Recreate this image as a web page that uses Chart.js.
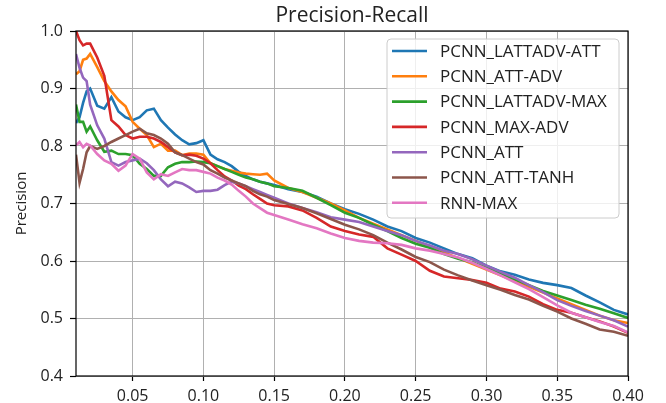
<!DOCTYPE html>
<html>
<head>
<meta charset="utf-8">
<script src="https://cdn.jsdelivr.net/npm/chart.js@4.4.1/dist/chart.umd.min.js"></script>
<style>
  html, body { margin: 0; padding: 0; background: #fff; }
  canvas { display: block; }
</style>
</head>
<body>
<canvas id="grafico" width="666" height="403"></canvas>
<script>
// Recall points (x) shared by every curve
const recall = [0.01, 0.0125, 0.015, 0.0175, 0.02, 0.025, 0.03, 0.035, 0.04, 0.045, 0.05,
  0.055, 0.06, 0.065, 0.07, 0.075, 0.08, 0.085, 0.09, 0.095, 0.10,
  0.105, 0.11, 0.115, 0.12, 0.125, 0.13, 0.135, 0.14, 0.145, 0.15,
  0.16, 0.17, 0.18, 0.19, 0.20, 0.21, 0.22, 0.23, 0.24, 0.25,
  0.26, 0.27, 0.28, 0.29, 0.30, 0.31, 0.32, 0.33, 0.34, 0.35,
  0.36, 0.37, 0.38, 0.39, 0.40];

// Precision values, one array per model
const lattAdvAtt = [0.84, 0.85, 0.875, 0.895, 0.90, 0.87, 0.865, 0.885, 0.86, 0.85, 0.845,
  0.85, 0.862, 0.865, 0.845, 0.832, 0.82, 0.81, 0.803, 0.805, 0.81,
  0.785, 0.777, 0.772, 0.765, 0.755, 0.748, 0.742, 0.738, 0.735, 0.732,
  0.725, 0.72, 0.712, 0.70, 0.69, 0.682, 0.672, 0.66, 0.652, 0.64,
  0.632, 0.622, 0.612, 0.605, 0.592, 0.582, 0.576, 0.568, 0.562, 0.558,
  0.553, 0.54, 0.528, 0.515, 0.507];
const attAdv = [0.925, 0.93, 0.95, 0.952, 0.96, 0.937, 0.913, 0.895, 0.88, 0.869, 0.842,
  0.83, 0.819, 0.798, 0.804, 0.792, 0.792, 0.784, 0.787, 0.787, 0.785,
  0.77, 0.765, 0.76, 0.757, 0.754, 0.752, 0.751, 0.75, 0.752, 0.74,
  0.727, 0.72, 0.71, 0.70, 0.688, 0.675, 0.665, 0.655, 0.645, 0.635,
  0.625, 0.615, 0.605, 0.595, 0.585, 0.575, 0.565, 0.555, 0.545, 0.535,
  0.525, 0.515, 0.505, 0.497, 0.492];
const lattAdvMax = [0.872, 0.842, 0.842, 0.825, 0.834, 0.81, 0.79, 0.792, 0.786, 0.786, 0.784,
  0.769, 0.76, 0.748, 0.748, 0.763, 0.769, 0.772, 0.772, 0.773, 0.772,
  0.77, 0.765, 0.76, 0.755, 0.75, 0.745, 0.742, 0.738, 0.735, 0.73,
  0.727, 0.722, 0.71, 0.697, 0.684, 0.675, 0.663, 0.652, 0.64, 0.63,
  0.623, 0.612, 0.604, 0.598, 0.588, 0.578, 0.568, 0.558, 0.548, 0.54,
  0.532, 0.524, 0.517, 0.509, 0.501];
const maxAdv = [1.0, 0.984, 0.975, 0.978, 0.978, 0.954, 0.922, 0.845, 0.834, 0.819, 0.813,
  0.816, 0.816, 0.813, 0.807, 0.798, 0.789, 0.784, 0.785, 0.783, 0.778,
  0.77, 0.758, 0.747, 0.74, 0.731, 0.725, 0.716, 0.708, 0.70, 0.697,
  0.695, 0.688, 0.675, 0.66, 0.652, 0.646, 0.642, 0.622, 0.611, 0.60,
  0.583, 0.573, 0.57, 0.567, 0.562, 0.552, 0.547, 0.538, 0.525, 0.515,
  0.51, 0.502, 0.495, 0.486, 0.475];
const pcnnAtt = [0.96, 0.936, 0.919, 0.913, 0.872, 0.836, 0.813, 0.772, 0.766, 0.772, 0.775,
  0.778, 0.77, 0.758, 0.742, 0.73, 0.738, 0.735, 0.728, 0.72, 0.722,
  0.722, 0.724, 0.732, 0.738, 0.735, 0.73, 0.725, 0.72, 0.715, 0.71,
  0.70, 0.692, 0.685, 0.676, 0.672, 0.668, 0.66, 0.652, 0.645, 0.635,
  0.627, 0.618, 0.612, 0.603, 0.592, 0.581, 0.571, 0.558, 0.546, 0.532,
  0.522, 0.513, 0.505, 0.497, 0.486];
const attTanh = [0.785, 0.736, 0.76, 0.789, 0.80, 0.795, 0.80, 0.807, 0.813, 0.819, 0.825,
  0.83, 0.822, 0.819, 0.813, 0.804, 0.789, 0.784, 0.778, 0.772, 0.768,
  0.758, 0.752, 0.745, 0.74, 0.735, 0.73, 0.722, 0.716, 0.712, 0.706,
  0.699, 0.692, 0.683, 0.673, 0.663, 0.655, 0.645, 0.632, 0.62, 0.607,
  0.598, 0.585, 0.575, 0.566, 0.558, 0.55, 0.541, 0.533, 0.522, 0.512,
  0.50, 0.491, 0.481, 0.477, 0.47];
const rnnMax = [0.801, 0.807, 0.798, 0.804, 0.801, 0.786, 0.775, 0.769, 0.757, 0.766, 0.786,
  0.778, 0.754, 0.742, 0.751, 0.748, 0.754, 0.76, 0.758, 0.758, 0.755,
  0.752, 0.745, 0.74, 0.733, 0.722, 0.712, 0.70, 0.692, 0.684, 0.68,
  0.672, 0.664, 0.657, 0.648, 0.64, 0.635, 0.632, 0.631, 0.628, 0.622,
  0.618, 0.612, 0.606, 0.597, 0.586, 0.575, 0.563, 0.551, 0.537, 0.523,
  0.51, 0.502, 0.494, 0.487, 0.476];

const nomes = ["PCNN_LATTADV-ATT", "PCNN_ATT-ADV", "PCNN_LATTADV-MAX", "PCNN_MAX-ADV",
  "PCNN_ATT", "PCNN_ATT-TANH", "RNN-MAX"];
const series = [lattAdvAtt, attAdv, lattAdvMax, maxAdv, pcnnAtt, attTanh, rnnMax];
const cores = ["#1f77b4", "#ff7f0e", "#2ca02c", "#d62728", "#9467bd", "#8c564b", "#e377c2"];

// Ticks
const xTicks = [0.05, 0.10, 0.15, 0.20, 0.25, 0.30, 0.35, 0.40];
const xTickLabels = ["0.05", "0.10", "0.15", "0.20", "0.25", "0.30", "0.35", "0.40"];
const yTicks = [0.4, 0.5, 0.6, 0.7, 0.8, 0.9, 1.0];
const yTickLabels = ["0.4", "0.5", "0.6", "0.7", "0.8", "0.9", "1.0"];

const titulo = "Precision-Recall";
const yTitulo = "Precision";

const FONTE = '"Open Sans", "DejaVu Sans", sans-serif';
const LARGURA_LINHA = 2.6;

// Frame, title, y label and legend drawn by hand (matplotlib look)
const extras = {
  id: "extras",
  afterDatasetsDraw(chart) {
    const { ctx, chartArea: a } = chart;
    ctx.save();
    // frame
    ctx.strokeStyle = "#000";
    ctx.lineWidth = 1.2;
    ctx.strokeRect(a.left, a.top, a.right - a.left, a.bottom - a.top);

    // title
    ctx.fillStyle = "#222";
    ctx.font = "21px " + FONTE;
    ctx.textAlign = "center";
    ctx.textBaseline = "alphabetic";
    ctx.fillText(titulo, (a.left + a.right) / 2, 22);

    // y label
    ctx.save();
    ctx.translate(26, (a.top + a.bottom) / 2);
    ctx.rotate(-Math.PI / 2);
    ctx.font = "15px " + FONTE;
    ctx.fillText(yTitulo, 0, 0);
    ctx.restore();

    // legend
    const bx = 387, by = 39, bw = 232, bh = 179;
    ctx.beginPath();
    ctx.roundRect(bx, by, bw, bh, 4);
    ctx.fillStyle = "rgba(255,255,255,0.8)";
    ctx.fill();
    ctx.strokeStyle = "#cccccc";
    ctx.lineWidth = 1;
    ctx.stroke();

    ctx.font = "17px " + FONTE;
    ctx.textAlign = "left";
    ctx.textBaseline = "middle";
    nomes.forEach((nome, i) => {
      const y = 51 + i * 25.3;
      ctx.strokeStyle = cores[i];
      ctx.lineWidth = LARGURA_LINHA;
      ctx.beginPath();
      ctx.moveTo(392, y);
      ctx.lineTo(427, y);
      ctx.stroke();
      ctx.fillStyle = "#222";
      ctx.fillText(nome, 440, y + 1);
    });
    ctx.restore();
  }
};

const datasets = series.map((vals, i) => ({
  label: nomes[i],
  data: recall.map((r, j) => ({ x: r, y: vals[j] })),
  borderColor: cores[i],
  backgroundColor: cores[i],
  borderWidth: LARGURA_LINHA,
  pointRadius: 0,
  tension: 0,
  clip: 0,
  order: series.length - i
}));

new Chart(document.getElementById("grafico").getContext("2d"), {
  type: "line",
  data: { datasets },
  options: {
    responsive: false,
    animation: false,
    layout: { padding: { top: 31, right: 38, left: 0, bottom: 0 } },
    plugins: {
      legend: { display: false },
      title: { display: false },
      tooltip: { enabled: false }
    },
    scales: {
      x: {
        type: "linear",
        min: 0.01,
        max: 0.40,
        afterBuildTicks: s => { s.ticks = xTicks.map(v => ({ value: v })); },
        afterFit: s => { s.height = 27; },
        ticks: {
          autoSkip: false,
          maxRotation: 0,
          padding: 6,
          color: "#222",
          font: { family: FONTE, size: 16 },
          callback: (v, i) => xTickLabels[i]
        },
        grid: { color: "#b0b0b0", lineWidth: 1, tickLength: 5, tickColor: "#000", tickWidth: 1.2 },
        border: { display: false }
      },
      y: {
        type: "linear",
        min: 0.4,
        max: 1.0,
        afterBuildTicks: s => { s.ticks = yTicks.map(v => ({ value: v })); },
        afterFit: s => { s.width = 76; },
        ticks: {
          autoSkip: false,
          padding: 7,
          color: "#222",
          font: { family: FONTE, size: 16 },
          callback: (v, i) => yTickLabels[i]
        },
        grid: { color: "#b0b0b0", lineWidth: 1, tickLength: 6, tickColor: "#000", tickWidth: 1.2 },
        border: { display: false }
      }
    }
  },
  plugins: [extras]
});
</script>
</body>
</html>
